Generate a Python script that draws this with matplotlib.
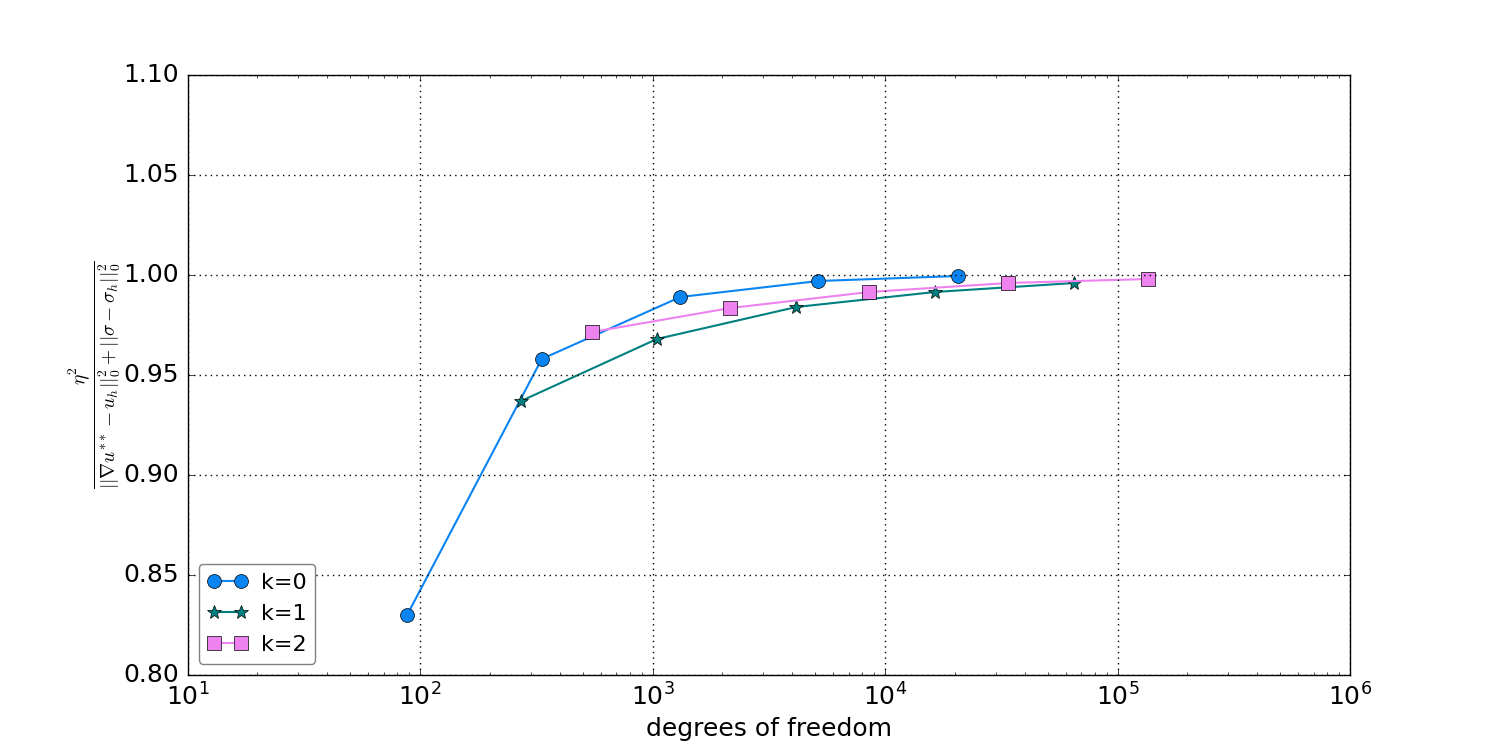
import matplotlib
matplotlib.use("Agg")
import matplotlib.pyplot as plt

plt.style.use('classic')

dofs_k0 = [88, 334, 1318, 5170, 20600]
eff_k0 = [0.830, 0.958, 0.989, 0.997, 0.9995]
dofs_k1 = [272, 1045, 4160, 16400, 65000]
eff_k1 = [0.937, 0.968, 0.984, 0.9915, 0.996]
dofs_k2 = [549, 2165, 8570, 33800, 135000]
eff_k2 = [0.9715, 0.9835, 0.9915, 0.996, 0.998]
labels = ['k=0', 'k=1', 'k=2']

fig = plt.figure(figsize=(15, 7.5), dpi=100, facecolor='white')
ax = fig.add_axes([0.125, 0.1, 0.775, 0.8])
ax.semilogx(dofs_k0, eff_k0, '-o', color='#0a84f0', mfc='#0a84f0', mec='black',
            ms=10, lw=1.5, label=labels[0])
ax.semilogx(dofs_k1, eff_k1, '-*', color='#008080', mfc='#008080', mec='black',
            ms=10, lw=1.5, label=labels[1])
ax.semilogx(dofs_k2, eff_k2, '-s', color='#ee82ee', mfc='#ee82ee', mec='black',
            ms=10, lw=1.5, label=labels[2])
ax.set_xlim(1e1, 1e6)
ax.set_ylim(0.80, 1.10)
ax.set_yticks([0.80, 0.85, 0.90, 0.95, 1.00, 1.05, 1.10])
ax.grid(True, color='black', linestyle=':', linewidth=1)
ax.tick_params(labelsize=18, pad=6)
ax.set_xlabel('degrees of freedom', fontsize=18)
ax.set_ylabel(r'$\frac{\eta^2}{||\nabla u^{**} - u_h||_0^2 + ||\sigma - \sigma_h||_0^2}$',
              fontsize=20, labelpad=1)
leg = ax.legend(loc='lower left', numpoints=2, fontsize=16, fancybox=True,
                handlelength=1.8, handletextpad=0.6)
leg.get_frame().set_edgecolor('gray')
fig.savefig('out.png', dpi=100, facecolor='white')
